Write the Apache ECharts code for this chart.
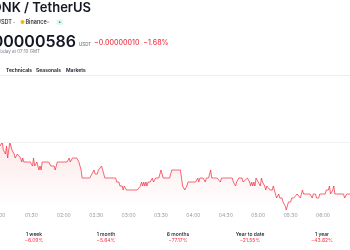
<!DOCTYPE html>
<html><head><meta charset="utf-8">
<script src="https://cdn.jsdelivr.net/npm/echarts@6/dist/echarts.min.js"></script>
<style>html,body{margin:0;padding:0;background:#fff;}#c{width:350px;height:250px;}</style>
</head><body><div id="c"></div>
<script>
// time in minutes after midnight (GMT), price in USDT x 1e-6
const times = [61,63,64,66,67,68,69,70,71,72,74,75,77,78,80,81,82,83,84,86,89,91,92,93,94,95,97,98,99,100,101,103,104,106,108,109,111,112,114,115,117,120,123,124,125,126,128,132,134,135,136,137,140,144,
146,148,149,151,152,153,155,156,157,158,163,166,168,169,171,172,174,175,176,177,178,180,182,188,191,192,193,194,195,196,197,198,200,202,203,205,208,209,210,211,212,218,220,222,223,225,228,
229,230,232,233,234,235,239,242,244,245,246,249,251,252,254,255,256,257,259,262,263,265,266,268,271,274,276,277,279,280,282,283,285,286,290,292,293,294,295,296,297,298,300,302,
303,304,305,306,307,308,309,311,313,314,315,316,317,319,320,322,323,325,326,327,328,330,331,333,334,336,337,339,340,341,342,343,345,346,348,350,351,353,354,356,357,359,360,362,363,365,366,367,369,370,371,373,374,376,377,379,380,382,383,385,387];
const prices = [5.98,5.99,5.97,5.96,5.98,5.95,5.97,5.99,5.98,5.97,5.96,5.95,5.96,5.96,5.95,5.94,5.95,5.94,5.94,5.94,5.94,5.93,5.95,5.93,5.93,5.94,5.92,5.93,5.92,5.94,5.94,5.94,5.94,5.94,5.93,5.93,5.93,5.92,5.94,5.94,5.94,5.94,5.94,5.94,5.95,5.94,5.95,5.95,5.94,5.93,5.92,5.90,5.90,5.90,
5.91,5.92,5.91,5.91,5.92,5.92,5.93,5.92,5.91,5.90,5.90,5.90,5.90,5.89,5.89,5.88,5.88,5.87,5.88,5.88,5.87,5.87,5.87,5.87,5.88,5.89,5.88,5.89,5.88,5.89,5.88,5.89,5.89,5.90,5.89,5.90,5.90,5.91,5.92,5.91,5.90,5.90,5.92,5.92,5.92,5.92,5.92,
5.90,5.88,5.87,5.87,5.88,5.89,5.89,5.89,5.90,5.89,5.90,5.90,5.89,5.90,5.90,5.91,5.92,5.90,5.90,5.90,5.90,5.89,5.90,5.90,5.90,5.90,5.90,5.89,5.88,5.89,5.90,5.90,5.90,5.89,5.90,5.89,5.88,5.89,5.88,5.89,5.88,5.90,5.89,5.88,
5.90,5.89,5.89,5.88,5.87,5.88,5.88,5.87,5.87,5.88,5.87,5.86,5.85,5.86,5.85,5.85,5.84,5.83,5.82,5.83,5.84,5.84,5.85,5.85,5.85,5.86,5.86,5.85,5.86,5.87,5.86,5.86,5.86,5.86,5.86,5.85,5.86,5.86,5.85,5.85,5.86,5.86,5.86,5.86,5.87,5.87,5.88,5.86,5.87,5.88,5.86,5.86,5.86,5.86,5.86,5.86,5.85,5.86,5.86,5.86,5.86];
const gridLevel = 5.99;
const periodLabels = ['1 week','1 month','6 months','Year to date','1 year'];
const periodValues = ['\u22126.09%','\u22125.64%','\u221277.17%','\u221221.55%','\u221243.82%'];
const symbolTitle = 'BONK / TetherUS';
const lastPrice = '0.00000586';
const changeText = '\u22120.00000010  \u22121.68%';
const tabs = ['Technicals','Seasonals','Markets'];

const FF = "Inter, 'Noto Sans', sans-serif";
const RED = '#f23645';
const DARK = '#131722';
const GRAY = '#787b86';

const data = times.map((t,i)=>[t, prices[i]]);
function fmt(v){const h=Math.floor(v/60), m=Math.round(v%60);return String(h).padStart(2,'0')+':'+String(m).padStart(2,'0');}

const graphics = [
  {type:'text', style:{text:symbolTitle, x:91, y:8, textAlign:'right', textVerticalAlign:'middle', font:'600 13px '+FF, fill:DARK}},
  {type:'text', style:{text:'BONKUSDT \u00b7', x:15, y:22, textAlign:'right', textVerticalAlign:'middle', font:'500 5.5px '+FF, fill:DARK}},
  {type:'circle', shape:{cx:22.5, cy:22, r:2}, style:{fill:'#f0b90b'}},
  {type:'text', style:{text:'Binance', x:25.5, y:22, textAlign:'left', textVerticalAlign:'middle', font:'500 5.5px '+FF, fill:DARK}},
  {type:'text', style:{text:'\u2304', x:48, y:21, textAlign:'center', textVerticalAlign:'middle', font:'500 5px '+FF, fill:GRAY}},
  {type:'rect', shape:{x:56.5, y:19.5, width:6.5, height:5.5, r:1}, style:{fill:'#e5f6ee'}},
  {type:'circle', shape:{cx:59.7, cy:22.2, r:0.9}, style:{fill:'#22ab94'}},
  {type:'text', style:{text:lastPrice, x:76, y:42, textAlign:'right', textVerticalAlign:'middle', font:'600 16px '+FF, fill:DARK}},
  {type:'text', style:{text:'USDT', x:79, y:45, textAlign:'left', textVerticalAlign:'middle', font:'500 4.5px '+FF, fill:GRAY}},
  {type:'text', style:{text:changeText, x:94, y:43, textAlign:'left', textVerticalAlign:'middle', font:'500 7px '+FF, fill:RED}},
  {type:'text', style:{text:'Today at 07:10 GMT', x:40, y:52, textAlign:'right', textVerticalAlign:'middle', font:'400 4.5px '+FF, fill:GRAY}},
  {type:'text', style:{text:tabs[0], x:6, y:70, textAlign:'left', textVerticalAlign:'middle', font:'600 5px '+FF, fill:DARK}},
  {type:'text', style:{text:tabs[1], x:36, y:70, textAlign:'left', textVerticalAlign:'middle', font:'600 5px '+FF, fill:DARK}},
  {type:'text', style:{text:tabs[2], x:66, y:70, textAlign:'left', textVerticalAlign:'middle', font:'600 5px '+FF, fill:DARK}},
  {type:'line', shape:{x1:0, y1:75.5, x2:350, y2:75.5}, style:{stroke:'#eceef2', lineWidth:1}}
];
const centers = [34,106,178,250,322];
periodLabels.forEach((l,i)=>{
  graphics.push({type:'text', style:{text:l, x:centers[i], y:234, textAlign:'center', textVerticalAlign:'middle', font:'500 5px '+FF, fill:DARK}});
  graphics.push({type:'text', style:{text:periodValues[i], x:centers[i], y:240, textAlign:'center', textVerticalAlign:'middle', font:'400 5px '+FF, fill:RED}});
});

const chart = echarts.init(document.getElementById('c'), null, {renderer:'canvas'});
chart.setOption({
  animation:false,
  backgroundColor:'#fff',
  grid:{left:-1, right:0, top:130, bottom:40, containLabel:false, outerBoundsMode:'none'},
  xAxis:{type:'value', min:60, max:385, interval:30,
    axisLine:{show:false}, axisTick:{show:false}, splitLine:{show:false},
    axisLabel:{show:true, showMaxLabel:false, hideOverlap:false, margin:3, fontSize:5, color:'#9598a1', fontFamily:FF, formatter:fmt}},
  yAxis:{type:'value', min:5.82, max:6.02, show:false, splitLine:{show:false}},
  series:[{type:'line', data:data, symbol:'none', showSymbol:false,
    lineStyle:{color:RED, width:1, opacity:0.75},
    areaStyle:{color:new echarts.graphic.LinearGradient(0,0,0,1,[{offset:0,color:'rgba(242,54,69,0.16)'},{offset:1,color:'rgba(242,54,69,0.0)'}])},
    markLine:{silent:true, symbol:'none', label:{show:false}, lineStyle:{color:'#f0f1f4', type:'solid', width:1}, data:[{yAxis:gridLevel}]}
  }],
  graphic:graphics
});
</script></body></html>
